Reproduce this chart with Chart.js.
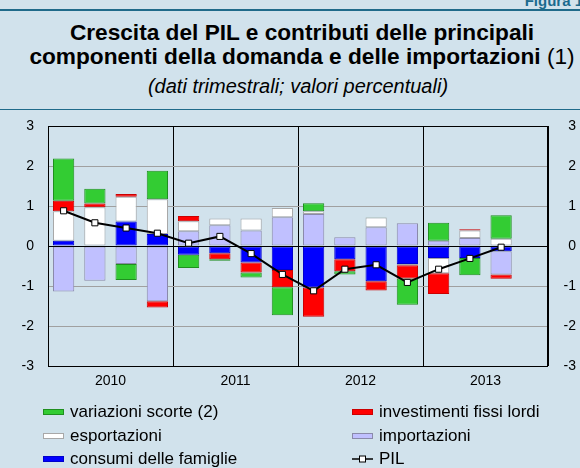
<!DOCTYPE html>
<html>
<head>
<meta charset="utf-8">
<script src="https://cdn.jsdelivr.net/npm/chart.js@4.4.1/dist/chart.umd.min.js"></script>
<style>
  body { margin: 0; width: 580px; height: 468px; overflow: hidden; background: #d1e2ec; font-family: 'Liberation Sans', Arial, sans-serif; position: relative; }
  #fig { position: absolute; top: -8px; right: -3px; color: #1b6a8e; font-weight: bold; font-size: 15px; }
  .rule { position: absolute; left: 0; width: 580px; background: #1f6a8a; }
  .line { position: absolute; width: 580px; text-align: center; color: #000; line-height: 1; white-space: nowrap; }
  .t { left: 12px; font-weight: bold; font-size: 22px; transform: scaleX(1.03); }
  .t span { font-weight: normal; }
  .s { left: 8px; font-style: italic; font-size: 20px; }
  #wrap { position: absolute; left: 0; top: 0; width: 580px; height: 468px; }
  #legend { position: absolute; left: 0; top: 0; width: 580px; height: 468px; font-size: 17px; color: #000; }
  .item { position: absolute; line-height: 1; white-space: nowrap; }
  .sw { position: absolute; width: 21px; height: 6px; box-sizing: border-box; border: 1px solid; }
  .pil { position: absolute; width: 21px; height: 8px; }
</style>
</head>
<body>
<div id="fig">Figura 1</div>
<div class="rule" style="top:9px;height:2px"></div>
<div class="line t" style="top:22px">Crescita del PIL e contributi delle principali</div>
<div class="line t" style="top:46px">componenti della domanda e delle importazioni <span>(1)</span></div>
<div class="line s" style="top:76px">(dati trimestrali; valori percentuali)</div>
<div class="rule" style="top:109px;height:1px"></div>
<div id="wrap"><canvas id="chart" width="580" height="468"></canvas></div>
<div id="legend"></div>
<script>
const quarters = ['2010 T1', '2010 T2', '2010 T3', '2010 T4', '2011 T1', '2011 T2', '2011 T3', '2011 T4',
                  '2012 T1', '2012 T2', '2012 T3', '2012 T4', '2013 T1', '2013 T2', '2013 T3', '2013 T4'];
const years = ['2010', '2011', '2012', '2013'];

const consumi      = [0.13, 0, 0.61, 0.30, -0.22, -0.18, -0.41, -0.60, -1.04, -0.33, -0.88, -0.45, -0.30, -0.30, -0.13, null];
const importazioni = [-1.14, -0.87, -0.45, -1.38, 0.37, 0.52, 0.39, 0.72, 0.80, 0.22, 0.47, 0.57, 0.13, 0.20, -0.58, null];
const esportazioni = [0.74, 0.97, 0.62, 0.87, 0.25, 0.17, 0.30, 0.23, 0.07, 0, 0.24, -0.03, -0.38, 0.19, 0.18, null];
const investimenti = [0.26, 0.09, 0.07, -0.16, 0.13, -0.15, -0.25, -0.43, -0.73, -0.30, -0.23, -0.33, -0.52, 0.03, -0.11, null];
const scorte       = [1.06, 0.37, -0.40, 0.71, -0.33, -0.04, -0.13, -0.70, 0.20, -0.08, 0.01, -0.66, 0.45, -0.43, 0.59, null];
const pil          = [0.88, 0.58, 0.45, 0.32, 0.07, 0.24, -0.19, -0.71, -1.12, -0.58, -0.47, -0.91, -0.58, -0.31, -0.03, null];

const yTicks = [-3, -2, -1, 0, 1, 2, 3];

const series = [
  { label: 'consumi delle famiglie', data: consumi, bg: '#0000ff', border: '#0000cc' },
  { label: 'importazioni', data: importazioni, bg: '#c0c0ff', border: '#8a8aaa' },
  { label: 'esportazioni', data: esportazioni, bg: '#ffffff', border: '#a8a8a8' },
  { label: 'investimenti fissi lordi', data: investimenti, bg: '#ff0000', border: '#cc0000' },
  { label: 'variazioni scorte (2)', data: scorte, bg: '#33cc33', border: '#1f8f1f' }
];

const frame = {
  id: 'frame',
  beforeDatasetDraw(chart, args) {
    if (args.meta.type !== 'line') return;
    const { ctx, chartArea: a, scales: { y } } = chart;
    const y0 = Math.round(y.getPixelForValue(0)) + 0.5;
    ctx.save();
    ctx.strokeStyle = '#000';
    ctx.lineWidth = 1;
    ctx.beginPath();
    ctx.moveTo(a.left, y0);
    ctx.lineTo(a.right, y0);
    ctx.stroke();
    ctx.restore();
  },
  afterDraw(chart) {
    const { ctx, chartArea: a } = chart;
    ctx.save();
    ctx.strokeStyle = '#000';
    ctx.lineWidth = 1;
    ctx.strokeRect(Math.round(a.left) + 0.5, Math.round(a.top) + 0.5, Math.round(a.right - a.left) - 1, Math.round(a.bottom - a.top));
    ctx.restore();
  }
};

const datasets = series.map(s => ({
  type: 'bar',
  label: s.label,
  data: s.data,
  backgroundColor: s.bg,
  borderColor: s.border,
  borderWidth: 1,
  borderSkipped: false,
  barPercentage: 0.68,
  categoryPercentage: 1,
  order: 1
}));
datasets.push({
  type: 'line',
  label: 'PIL',
  data: pil,
  borderColor: '#000',
  borderWidth: 2,
  pointStyle: 'rect',
  pointRadius: 4.3,
  pointBackgroundColor: '#fff',
  pointBorderColor: '#000',
  pointBorderWidth: 1,
  tension: 0,
  order: 0
});

new Chart(document.getElementById('chart'), {
  data: { labels: quarters, datasets },
  options: {
    responsive: false,
    animation: false,
    layout: { padding: { top: 126, right: 4, left: 0, bottom: 0 } },
    plugins: { legend: { display: false }, tooltip: { enabled: false } },
    scales: {
      x: { stacked: true, display: false },
      xYear: {
        type: 'category',
        labels: years,
        position: 'bottom',
        offset: true,
        grid: { offset: true, color: '#000', drawTicks: false },
        border: { display: false },
        ticks: { color: '#000', padding: 7, font: { family: 'Liberation Sans', size: 14 } },
        afterFit(s) { s.height = 102; }
      },
      y: {
        stacked: true,
        min: -3, max: 3,
        afterBuildTicks(s) { s.ticks = yTicks.map(v => ({ value: v })); },
        grid: { color: '#a0a0a0', drawTicks: false },
        border: { color: '#000' },
        ticks: { color: '#000', padding: 14, font: { family: 'Liberation Sans', size: 14 } },
        afterFit(s) { s.width = 48; }
      },
      y2: {
        position: 'right',
        min: -3, max: 3,
        afterBuildTicks(s) { s.ticks = yTicks.map(v => ({ value: v })); },
        grid: { display: false, drawTicks: false },
        border: { display: false },
        ticks: { color: '#000', crossAlign: 'far', font: { family: 'Liberation Sans', size: 14 } },
        afterFit(s) { s.width = 28; }
      }
    }
  },
  plugins: [frame]
});

// legenda su due colonne (baseline delle righe)
const legendItems = [
  { s: series[4], x: 43, base: 417 },
  { s: series[2], x: 43, base: 441 },
  { s: series[0], x: 43, base: 464 },
  { s: series[3], x: 352, base: 417 },
  { s: series[1], x: 352, base: 441 },
  { s: null, label: 'PIL', x: 352, base: 464 }
];
const legend = document.getElementById('legend');
legendItems.forEach(it => {
  const top = it.base - 14.4;
  const mid = it.base - 5.5;
  let sw;
  if (it.s) {
    sw = document.createElement('span');
    sw.className = 'sw';
    sw.style.background = it.s.bg;
    sw.style.borderColor = it.s.border;
    sw.style.left = it.x + 'px';
    sw.style.top = (mid - 3) + 'px';
  } else {
    sw = document.createElementNS('http://www.w3.org/2000/svg', 'svg');
    sw.setAttribute('class', 'pil');
    sw.setAttribute('viewBox', '0 0 21 8');
    sw.style.left = it.x + 'px';
    sw.style.top = (mid - 4) + 'px';
    sw.innerHTML = '<line x1="0" y1="4" x2="21" y2="4" stroke="#000" stroke-width="1.5"/><rect x="7.5" y="1" width="6" height="6" fill="#fff" stroke="#000" stroke-width="1"/>';
  }
  legend.appendChild(sw);
  const el = document.createElement('div');
  el.className = 'item';
  el.style.left = (it.x + 27) + 'px';
  el.style.top = top + 'px';
  el.textContent = it.s ? it.s.label : it.label;
  legend.appendChild(el);
});
</script>
</body>
</html>
